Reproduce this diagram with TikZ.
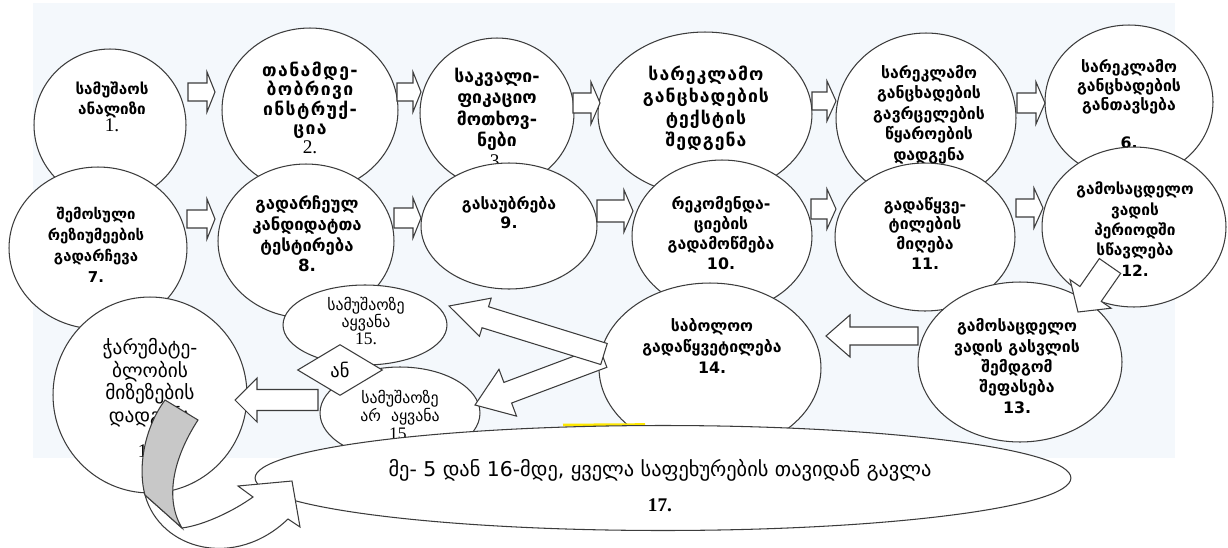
\documentclass[tikz,border=0pt]{standalone}
\usepackage{fontspec}
\setmainfont{DejaVu Sans}
\newfontfamily\geo{DejaVu Sans}
\newfontfamily\ser{Liberation Serif}
\usetikzlibrary{calc,shapes.geometric}
\definecolor{bgblue}{RGB}{244,248,252}
\definecolor{ln}{RGB}{60,60,60}
\definecolor{grayarrow}{RGB}{200,200,200}
\newcommand\gf[2]{\geo\bfseries\fontsize{#1}{#2}\selectfont}
\newcommand\gr[2]{\geo\fontsize{#1}{#2}\selectfont}
\newcommand\blockarrow[5]{%
  \coordinate (ba-base) at ($(#2)!#5!(#1)$);
  \draw[blk] ($(#1)!#3!90:(#2)$) -- ($(ba-base)!#3!90:(#2)$) -- ($(ba-base)!#4!90:(#2)$) -- (#2)
    -- ($(ba-base)!#4!-90:(#2)$) -- ($(ba-base)!#3!-90:(#2)$) -- ($(#1)!#3!-90:(#2)$) -- cycle;
}
\tikzset{
  bub/.style={ellipse, draw=ln, fill=white, line width=0.6pt, inner sep=0pt},
  txt/.style={align=center, inner sep=0pt, text=black},
  blk/.style={draw=ln, fill=white, line width=0.6pt, line join=miter},
}
\begin{document}
\begin{tikzpicture}[x=0.02cm, y=-0.02cm]
\useasboundingbox (0,0) rectangle (1228,548);
\fill[bgblue] (33,3) rectangle (1175,458);

% row 1
\node[bub, minimum width=3.04cm, minimum height=3.04cm] (c1) at (110,125) {};
\node[txt, font=\gf{8.7}{11.5}] (t1) at (112,107) {სამუშაოს\\ანალიზი\\[-2pt]{\ser\mdseries\fontsize{11}{11}\selectfont 1.}};
\node[bub, minimum width=3.52cm, minimum height=3.28cm] (c2) at (310,110) {};
\node[txt, font=\gf{10}{10.9}\addfontfeature{LetterSpace=8}] (t2) at (310,108) {თანამდე-\\ბობრივი\\ინსტრუქ-\\ცია\\{\ser\mdseries\fontsize{11}{11}\selectfont 2.}};
\node[bub, minimum width=3.08cm, minimum height=3.00cm] (c3) at (497,113) {};
\node[txt, font=\gf{10}{12}] (t3) at (497,118) {საკვალი-\\ფიკაციო\\მოთხოვ-\\ნები\\{\ser\mdseries\fontsize{11}{11}\selectfont 3.}};
\node[bub, minimum width=4.28cm, minimum height=3.28cm] (c4) at (705,114) {};
\node[txt, font=\gf{10}{12.5}\addfontfeature{LetterSpace=6}] (t4) at (706,122) {სარეკლამო\\განცხადების\\ტექსტის\\შედგენა\\[5pt]{\ser 4.}};
\node[bub, minimum width=3.60cm, minimum height=3.40cm] (c5) at (926,118) {};
\node[txt, font=\gf{9}{11.7}] (t5) at (929,123) {სარეკლამო\\განცხადების\\გავრცელების\\წყაროების\\დადგენა\\5.};
\node[bub, minimum width=3.36cm, minimum height=3.08cm] (c6) at (1129,102) {};
\node[txt, font=\gf{9}{10.9}] (t6) at (1129,104) {სარეკლამო\\განცხადების\\განთავსება\\[11pt]6.};

% row 2
\node[bub, minimum width=3.56cm, minimum height=3.24cm] (c7) at (98,248) {};
\node[txt, font=\gf{8.5}{11.9}] (t7) at (96,245) {შემოსული\\რეზიუმეების\\გადარჩევა\\7.};
\node[bub, minimum width=3.52cm, minimum height=3.08cm] (c8) at (306,241) {};
\node[txt, font=\gf{9.5}{11.7}] (t8) at (307,234) {გადარჩეულ\\კანდიდატთა\\ტესტირება\\8.};
\node[bub, minimum width=3.52cm, minimum height=2.52cm] (c9) at (509,226) {};
\node[txt, font=\gf{9}{10.8}] (t9) at (509,213) {გასაუბრება\\9.};
\node[bub, minimum width=3.60cm, minimum height=3.04cm] (c10) at (722,236) {};
\node[txt, font=\gf{9}{11.3}] (t10) at (721,233) {რეკომენდა-\\ციების\\გადამოწმება\\10.};
\node[bub, minimum width=3.60cm, minimum height=2.96cm] (c11) at (925,237) {};
\node[txt, font=\gf{9}{11.2}] (t11) at (925,233) {გადაწყვე-\\ტილების\\მიღება\\11.};
\node[bub, minimum width=3.68cm, minimum height=3.20cm] (c12) at (1134,227) {};
\node[txt, font=\gf{8.8}{11.6}] (t12) at (1135,229) {გამოსაცდელო\\ვადის\\პერიოდში\\სწავლება\\12.};

% row 3
\node[bub, minimum width=4.08cm, minimum height=3.20cm] (c13) at (1020,362) {};
\node[txt, font=\gf{9}{11.6}] (t13) at (1017,366) {გამოსაცდელო\\ვადის გასვლის\\შემდგომ\\შეფასება\\13.};
\node[bub, minimum width=4.44cm, minimum height=3.40cm] (c14) at (710,368) {};
\node[txt, font=\gf{9}{11.9}] (t14) at (712,346) {საბოლოო\\გადაწყვეტილება\\14.};
\node[bub, minimum width=3.28cm, minimum height=1.60cm] (c15a) at (365,325) {};
\node[txt, font=\gr{9}{9.9}] (t15a) at (366,321) {სამუშაოზე\\აყვანა\\{\ser\fontsize{10}{10}\selectfont 15.}};
\node[bub, minimum width=3.20cm, minimum height=1.84cm] (c15b) at (400,413) {};
\node[txt, font=\gr{9}{10.2}] (t15b) at (400,415) {სამუშაოზე\\არ~~აყვანა\\{\ser\fontsize{10}{10}\selectfont 15.}};
\node[bub, minimum width=3.88cm, minimum height=3.92cm] (c16) at (150,395) {};
\node[txt, font=\gr{11}{11}] (t16) at (150,398) {ჭარუმატე-\\ბლობის\\მიზეზების\\დადგენა\\[9pt]{\ser\fontsize{11}{11}\selectfont 16.}};
\node[diamond, draw=ln, fill=white, line width=0.6pt, minimum width=1.7cm, minimum height=1.02cm, inner sep=0pt, font=\gr{10.5}{11}] (or) at (340,370) {ან};

% bottom ellipse
\draw[yellow!90!orange, line width=1.5pt] (563,425) -- (645,424.5);
\node[bub, minimum width=16.32cm, minimum height=2.10cm] (c17) at (663,478) {};
\node[txt, font=\gr{11.6}{12}] (t17) at (660,486) {მე- 5 დან 16-მდე, ყველა საფეხურების თავიდან გავლა\\[8pt]{\ser\bfseries\fontsize{11}{11}\selectfont 17.}};

% row arrows
\coordinate (a12s) at (188,92);  \coordinate (a12e) at (215,92);
\coordinate (a23s) at (397,92);  \coordinate (a23e) at (421,92);
\coordinate (a34s) at (573,103); \coordinate (a34e) at (600,103);
\coordinate (a45s) at (812,101); \coordinate (a45e) at (836,101);
\coordinate (a56s) at (1017,103);\coordinate (a56e) at (1045,103);
\coordinate (a78s) at (187,219); \coordinate (a78e) at (215,219);
\coordinate (a89s) at (394,218); \coordinate (a89e) at (421,218);
\coordinate (a910s) at (597,211);\coordinate (a910e) at (633,211);
\coordinate (a1011s) at (811,209);\coordinate (a1011e) at (836,209);
\coordinate (a1112s) at (1016,208);\coordinate (a1112e) at (1043,208);
\blockarrow{a12s}{a12e}{0.18cm}{0.40cm}{0.16cm}
\blockarrow{a23s}{a23e}{0.18cm}{0.40cm}{0.16cm}
\blockarrow{a34s}{a34e}{0.20cm}{0.42cm}{0.18cm}
\blockarrow{a45s}{a45e}{0.18cm}{0.40cm}{0.18cm}
\blockarrow{a56s}{a56e}{0.20cm}{0.42cm}{0.18cm}
\blockarrow{a78s}{a78e}{0.18cm}{0.40cm}{0.16cm}
\blockarrow{a89s}{a89e}{0.20cm}{0.40cm}{0.16cm}
\blockarrow{a910s}{a910e}{0.22cm}{0.42cm}{0.18cm}
\blockarrow{a1011s}{a1011e}{0.20cm}{0.40cm}{0.18cm}
\blockarrow{a1112s}{a1112e}{0.18cm}{0.40cm}{0.18cm}

% other arrows
\coordinate (a1213s) at (1110,266); \coordinate (a1213e) at (1078,312);
\blockarrow{a1213s}{a1213e}{0.26cm}{0.50cm}{0.44cm}
\coordinate (a1314s) at (918,336); \coordinate (a1314e) at (826,336);
\blockarrow{a1314s}{a1314e}{0.18cm}{0.42cm}{0.48cm}
\coordinate (a1415bs) at (603,357); \coordinate (a1415be) at (475,405);
\blockarrow{a1415bs}{a1415be}{0.22cm}{0.50cm}{0.70cm}
\coordinate (a1415as) at (604,354); \coordinate (a1415ae) at (449,306);
\blockarrow{a1415as}{a1415ae}{0.22cm}{0.40cm}{0.76cm}
\coordinate (a1516s) at (318,400); \coordinate (a1516e) at (235,400);
\blockarrow{a1516s}{a1516e}{0.21cm}{0.44cm}{0.44cm}

% curved arrow from 16 to 17
\draw[blk] (145,495) -- (182,528) .. controls (205,525) and (235,510) .. (253,497)
  -- (238,486) -- (292,481) -- (300,527) -- (288,519)
  .. controls (235,570) and (160,550) .. (145,495) -- cycle;
\draw[draw=ln, fill=grayarrow, line width=0.6pt, line join=miter] (165,400) -- (198,420)
  .. controls (172,460) and (165,500) .. (182,528) -- (145,495)
  .. controls (138,470) and (143,430) .. (165,400) -- cycle;
\end{tikzpicture}
\end{document}
